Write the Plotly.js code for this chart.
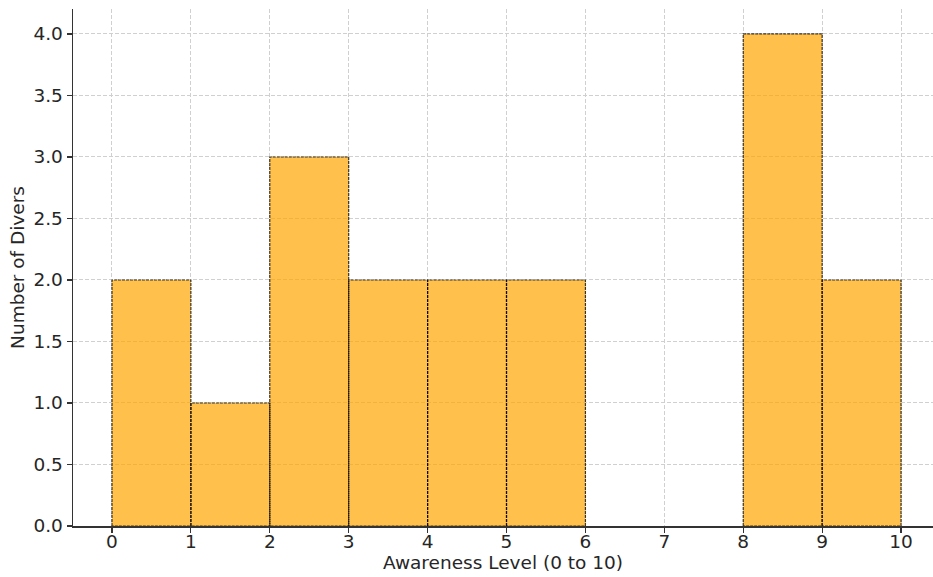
<!DOCTYPE html>
<html>
<head>
<meta charset="utf-8">
<script src="https://cdn.plot.ly/plotly-3.0.1.min.js"></script>
<style>html,body{margin:0;padding:0;background:#fff;}#chart{width:933px;height:577px;}</style>
</head>
<body>
<div id="chart"></div>
<script>
const binStarts = [0, 1, 2, 3, 4, 5, 6, 7, 8, 9];
const counts = [2, 1, 3, 2, 2, 2, 0, 0, 4, 2];
const xTicks = [0, 1, 2, 3, 4, 5, 6, 7, 8, 9, 10];
const yTicks = [0, 0.5, 1, 1.5, 2, 2.5, 3, 3.5, 4];
const yTickText = yTicks.map(v => v.toFixed(1));

const ox = [], oy = [];
binStarts.forEach((s, i) => {
  const c = counts[i];
  if (c > 0) {
    ox.push(s, s, s + 1, s + 1, s, null);
    oy.push(0, c, c, 0, 0, null);
  }
});

const traces = [
  {
    type: 'bar',
    x: binStarts.map(s => s + 0.5),
    y: counts,
    width: 1,
    marker: {color: 'rgba(255,165,0,0.7)', line: {width: 0}},
    hoverinfo: 'skip'
  },
  {
    type: 'scatter',
    mode: 'lines',
    x: ox,
    y: oy,
    line: {color: 'rgba(0,0,0,0.75)', width: 1.2, dash: '3px,1px'},
    hoverinfo: 'skip',
    cliponaxis: false
  }
];

const fs = 18.5;
const layout = {
  width: 933, height: 577,
  margin: {l: 73, r: 0, t: 9, b: 51},
  paper_bgcolor: '#fff', plot_bgcolor: '#fff',
  showlegend: false,
  font: {family: 'DejaVu Sans', size: fs, color: '#262626'},
  xaxis: {
    range: [-0.494, 10.405],
    tickvals: xTicks,
    ticktext: xTicks.map(String),
    ticks: 'outside', ticklen: 5, tickwidth: 1.2, tickcolor: '#333',
    ticklabelstandoff: -7,
    showline: true, linecolor: '#333', linewidth: 1.5,
    showgrid: true, gridcolor: '#d0d0d0', griddash: '4px,2px', gridwidth: 1,
    zeroline: false,
    tickfont: {size: fs},
    title: {text: 'Awareness Level (0 to 10)', font: {size: fs}, standoff: 2}
  },
  yaxis: {
    range: [0, 4.203],
    tickvals: yTicks,
    ticktext: yTickText,
    ticks: 'outside', ticklen: 5, tickwidth: 1.2, tickcolor: '#333',
    showline: true, linecolor: '#333', linewidth: 1.5,
    showgrid: true, gridcolor: '#d0d0d0', griddash: '4px,2px', gridwidth: 1,
    zeroline: false,
    tickfont: {size: fs},
    title: {text: 'Number of Divers', font: {size: fs}, standoff: 4}
  }
};

Plotly.newPlot('chart', traces, layout, {displayModeBar: false, staticPlot: true});
</script>
</body>
</html>
